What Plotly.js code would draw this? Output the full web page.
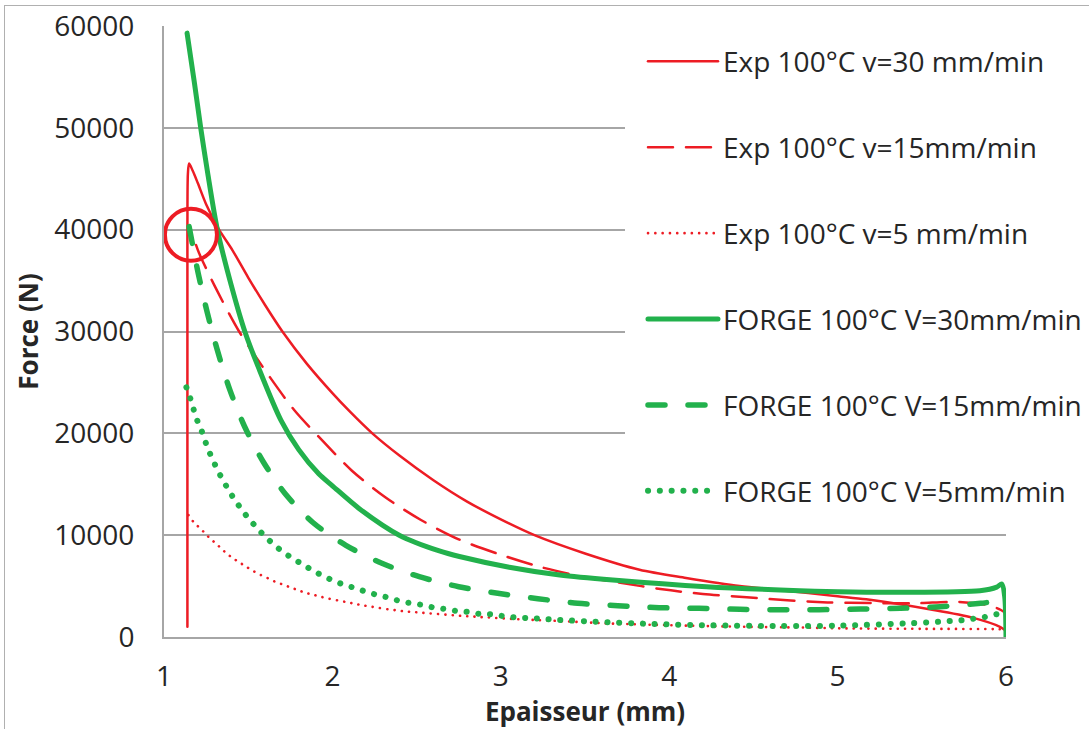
<!DOCTYPE html>
<html>
<head>
<meta charset="utf-8">
<script src="https://cdn.plot.ly/plotly-3.0.1.min.js"></script>
<style>
  html, body { margin: 0; padding: 0; background: #fff; overflow: hidden; }
  #frame { position: absolute; left: 4px; top: 5px; width: 3000px; height: 3000px;
           border-left: 1.5px solid #b0b0b0; border-top: 1.5px solid #b0b0b0; pointer-events: none; }
  #chart { position: absolute; left: 0; top: 0; width: 1089px; height: 729px; }
  .js-line { stroke-linecap: round; }
</style>
</head>
<body>
<div id="chart"></div>
<div id="frame"></div>
<script>
// ---- data ----
const seriesNames = [
  "Exp 100°C v=30 mm/min",
  "Exp 100°C v=15mm/min",
  "Exp 100°C v=5 mm/min",
  "FORGE 100°C V=30mm/min",
  "FORGE 100°C V=15mm/min",
  "FORGE 100°C V=5mm/min"
];

const exp30X = [1.139, 1.139, 1.142, 1.149, 1.17, 1.2, 1.25, 1.327, 1.406, 1.5, 1.6, 1.703, 1.85, 2.0, 2.1, 2.237, 2.4, 2.6, 2.8, 3.0, 3.2, 3.5, 3.824, 4.1, 4.419, 4.66, 5.0, 5.17, 5.57, 5.8, 5.964, 6.0];
const exp30Y = [1000, 40000, 45500, 46500, 45800, 44600, 42500, 40000, 38000, 35300, 32600, 30000, 26800, 23950, 22200, 20000, 17800, 15400, 13300, 11550, 10000, 8200, 6600, 5800, 5000, 4600, 4000, 3700, 2650, 1900, 1000, 600];

const exp15X = [1.19, 1.208, 1.3, 1.446, 1.624, 1.773, 1.941, 2.116, 2.314, 2.526, 2.75, 2.987, 3.23, 3.47, 3.71, 3.96, 4.2, 4.46, 4.70, 4.94, 5.2, 5.46, 5.72, 5.9, 5.97, 6.0];
const exp15Y = [38500, 37700, 34500, 30000, 25630, 22290, 19280, 16330, 13720, 11490, 9590, 8150, 6900, 5990, 5330, 4680, 4220, 3900, 3600, 3400, 3330, 3310, 3450, 3100, 2650, 2300];

const exp5X = [1.145, 1.174, 1.204, 1.238, 1.272, 1.307, 1.343, 1.376, 1.41, 1.45, 1.489, 1.531, 1.575, 1.618, 1.66, 1.703, 1.749, 1.793, 1.838, 1.886, 1.93, 1.98, 2.03, 2.08, 2.13, 2.18, 2.23, 2.278, 2.33, 2.377, 2.427, 2.476, 2.525, 2.575, 2.625, 2.674, 2.723, 2.774, 2.82, 2.87, 2.92, 2.97, 3.02, 3.07, 3.12, 3.17, 3.22, 3.27, 3.32, 3.626, 4.02, 4.42, 4.815, 5.01, 5.5, 5.96, 6.0];
const exp5Y = [11980, 11320, 10830, 10280, 9690, 9200, 8640, 8150, 7730, 7300, 6900, 6480, 6090, 5760, 5430, 5170, 4880, 4620, 4350, 4150, 3960, 3760, 3600, 3440, 3270, 3110, 2980, 2850, 2720, 2620, 2520, 2460, 2390, 2320, 2260, 2190, 2130, 2060, 2030, 1960, 1930, 1870, 1830, 1770, 1740, 1700, 1650, 1620, 1590, 1340, 1150, 1010, 920, 850, 800, 760, 700];

const forge30X = [1.137, 1.18, 1.218, 1.26, 1.317, 1.4, 1.48, 1.565, 1.694, 1.80, 1.92, 2.0, 2.16, 2.397, 2.635, 2.754, 3.05, 3.35, 3.665, 4.22, 4.775, 5.0, 5.37, 5.845, 5.945, 5.975, 5.992, 6.0];
const forge30Y = [59300, 54500, 50000, 45500, 40000, 34500, 30000, 26300, 21300, 18400, 16000, 14850, 12600, 10000, 8450, 7900, 6850, 6090, 5600, 4940, 4550, 4450, 4400, 4550, 4900, 5200, 4000, 0];

const forge15X = [1.149, 1.204, 1.257, 1.317, 1.39, 1.477, 1.589, 1.721, 1.886, 2.08, 2.294, 2.516, 2.75, 2.982, 3.22, 3.457, 3.695, 3.94, 4.177, 4.42, 4.656, 4.89, 5.136, 5.374, 5.61, 5.85, 5.96, 6.0];
const forge15Y = [40300, 35650, 31850, 28150, 24320, 20720, 17210, 14040, 11220, 9000, 7240, 5920, 4940, 4290, 3760, 3310, 3080, 2880, 2820, 2720, 2680, 2680, 2750, 2820, 2980, 3310, 3450, 3000];

const forge5X = [1.133, 1.155, 1.174, 1.194, 1.218, 1.242, 1.266, 1.293, 1.323, 1.353, 1.386, 1.422, 1.462, 1.503, 1.549, 1.595, 1.644, 1.697, 1.753, 1.819, 1.886, 1.945, 2.007, 2.072, 2.14, 2.203, 2.27, 2.334, 2.40, 2.468, 2.536, 2.605, 2.67, 2.74, 2.807, 2.877, 2.944, 3.011, 3.08, 3.15, 3.22, 3.35, 3.557, 3.903, 4.244, 4.656, 4.993, 5.41, 5.54, 5.617, 5.687, 5.756, 5.822, 5.885, 5.95, 5.99];
const forge5Y = [24520, 23500, 22460, 21400, 20500, 19350, 18300, 17280, 16230, 15320, 14370, 13420, 12500, 11620, 10770, 9950, 9200, 8470, 7830, 7170, 6510, 5990, 5530, 5110, 4780, 4420, 4120, 3860, 3530, 3310, 3140, 2880, 2750, 2550, 2460, 2260, 2230, 2060, 1930, 1870, 1820, 1670, 1510, 1280, 1150, 1080, 1110, 1340, 1440, 1510, 1600, 1670, 1830, 2000, 2260, 2400];

const xTickVals = [1, 2, 3, 4, 5, 6];
const yTickVals = [0, 10000, 20000, 30000, 40000, 50000, 60000];
const xTitle = "Epaisseur (mm)";
const yTitle = "Force (N)";

// highlight circle (data anchor)
const circleX = 1.16;
const circleY = 39500;

// ---- styles ----
const RED = "#ed1c24";
const GREEN = "#22b14c";
const GRID = "#a6a6a6";
const TXT = "#262626";
const FONT = "Open Sans, sans-serif";

const styles = [
  {color: RED, width: 2.5, dash: "solid"},
  {color: RED, width: 2.5, dash: "25px,13px"},
  {color: RED, width: 2.6, dash: "0.1px,7.2px"},
  {color: GREEN, width: 5, dash: "solid"},
  {color: GREEN, width: 5.5, dash: "17px,23px"},
  {color: GREEN, width: 6, dash: "0.1px,11.7px"}
];
const xs = [exp30X, exp15X, exp5X, forge30X, forge15X, forge5X];
const ys = [exp30Y, exp15Y, exp5Y, forge30Y, forge15Y, forge5Y];

const traces = seriesNames.map((name, i) => ({
  type: "scatter",
  mode: "lines",
  name: name,
  legendgroup: "g" + i,
  x: xs[i],
  y: ys[i],
  line: {color: styles[i].color, width: styles[i].width, dash: styles[i].dash, shape: "spline", smoothing: 0.8},
  hoverinfo: "skip"
}));

const layout = {
  width: 1089,
  height: 729,
  margin: {l: 164, r: 83, t: 26, b: 92, autoexpand: false},
  paper_bgcolor: "#fff",
  plot_bgcolor: "#fff",
  font: {family: FONT, color: TXT, size: 28},
  showlegend: true,
  legend: {
    x: 0.5475, xanchor: "left",
    y: 1.012, yanchor: "top",
    bgcolor: "#fff",
    bordercolor: "#fff",
    borderwidth: 18,
    font: {family: FONT, size: 28, color: TXT},
    itemwidth: 70,
    tracegroupgap: 46.5,
    traceorder: "grouped",
    maxheight: 700
  },
  xaxis: {
    range: [1, 6],
    tickvals: xTickVals,
    ticktext: xTickVals.map(String),
    showgrid: false,
    zeroline: false,
    showline: true,
    linecolor: GRID,
    linewidth: 2,
    ticks: "",
    ticklabelstandoff: 13,
    tickfont: {family: FONT, size: 28, color: TXT},
    title: {text: xTitle, font: {family: FONT, size: 26, color: TXT, weight: "bold"}, standoff: 10},
    automargin: false
  },
  yaxis: {
    range: [0, 60000],
    tickvals: yTickVals,
    ticktext: yTickVals.map(String),
    showgrid: true,
    gridcolor: GRID,
    gridwidth: 2,
    zeroline: false,
    showline: true,
    linecolor: GRID,
    linewidth: 2,
    ticks: "",
    ticklabelstandoff: 22,
    tickfont: {family: FONT, size: 28, color: TXT},
    title: {text: yTitle, font: {family: FONT, size: 26, color: TXT, weight: "bold"}, standoff: 8},
    automargin: false
  },
  shapes: [{
    type: "circle",
    xref: "x", yref: "y",
    xsizemode: "pixel", ysizemode: "pixel",
    xanchor: circleX, yanchor: circleY,
    x0: -26, x1: 26, y0: -26, y1: 26,
    line: {color: RED, width: 4},
    fillcolor: "rgba(0,0,0,0)",
    layer: "above"
  }]
};

Plotly.newPlot("chart", traces, layout, {displayModeBar: false, staticPlot: true});
</script>
</body>
</html>
